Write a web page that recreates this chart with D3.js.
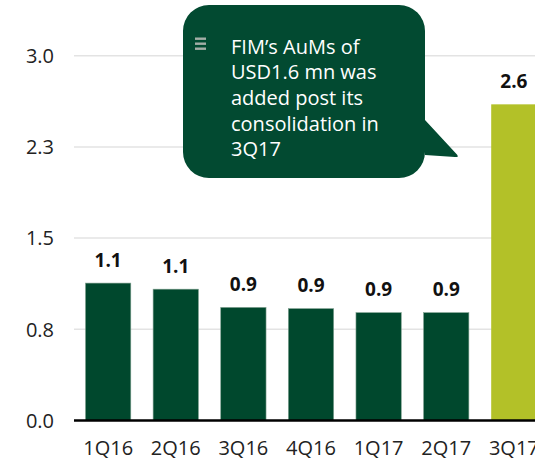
<!DOCTYPE html>
<html lang="en">
<head>
    <style>
        body { margin: 0; background: #fff; }
        svg { display: block; font-family: "Open Sans", "Noto Sans", sans-serif; }
        .grid line { stroke: #e3e3e3; stroke-width: 1.5; }
        .tick-label { font-size: 20px; fill: #222; }
        .value-label { font-size: 19px; font-weight: bold; fill: #111; }
        .note { font-size: 20px; fill: #fff; }
    </style>
    <script src="https://d3js.org/d3.v7.min.js"></script>
</head>
<body>
    <svg id="chart"></svg>

    <script>
        // Data
        var quarters = ["1Q16", "2Q16", "3Q16", "4Q16", "1Q17", "2Q17", "3Q17"];
        var aum = [1.13, 1.08, 0.93, 0.92, 0.887, 0.887, 2.60];
        var valueLabels = ["1.1", "1.1", "0.9", "0.9", "0.9", "0.9", "2.6"];
        var yTicks = [0, 0.75, 1.5, 2.25, 3.0];
        var yTickLabels = ["0.0", "0.8", "1.5", "2.3", "3.0"];
        var noteLines = ["FIM\u2019s AuMs of", "USD1.6 mn was", "added post its", "consolidation in", "3Q17"];

        var width = 535, height = 459;
        var darkGreen = "#00482d", lime = "#b3c128";

        var svg = d3.select("#chart")
            .attr("width", width)
            .attr("height", height);

        var y = d3.scaleLinear().domain([0, 3]).range([420.5, 55.7]);
        var x = d3.scaleBand()
            .domain(quarters)
            .range([74, 548])
            .paddingInner(0.33)
            .paddingOuter(0.17);

        // gridlines
        svg.append("g").attr("class", "grid")
            .selectAll("line")
            .data(yTicks.slice(1))
            .join("line")
            .attr("x1", 74).attr("x2", width)
            .attr("y1", d => y(d)).attr("y2", d => y(d));

        // y tick labels
        svg.append("g")
            .selectAll("text")
            .data(yTicks)
            .join("text")
            .attr("class", "tick-label")
            .attr("x", 54)
            .attr("y", d => y(d))
            .attr("dy", "0.36em")
            .attr("text-anchor", "end")
            .text((d, i) => yTickLabels[i]);

        // bars
        svg.append("g")
            .selectAll("rect")
            .data(aum)
            .join("rect")
            .attr("x", (d, i) => x(quarters[i]))
            .attr("width", x.bandwidth())
            .attr("y", d => y(d))
            .attr("height", d => y(0) - y(d))
            .attr("fill", (d, i) => i === quarters.length - 1 ? lime : darkGreen)
            .attr("stroke", (d, i) => i === quarters.length - 1 ? "none" : "#7fa08f")
            .attr("stroke-width", 0.6);

        // value labels
        svg.append("g")
            .selectAll("text")
            .data(aum)
            .join("text")
            .attr("class", "value-label")
            .attr("x", (d, i) => x(quarters[i]) + x.bandwidth() / 2)
            .attr("y", d => y(d) - 16.5)
            .attr("text-anchor", "middle")
            .text((d, i) => valueLabels[i]);

        // baseline
        svg.append("line")
            .attr("x1", 74).attr("x2", width)
            .attr("y1", y(0)).attr("y2", y(0))
            .attr("stroke", "#000")
            .attr("stroke-width", 2.7);

        // x axis labels
        svg.append("g")
            .selectAll("text")
            .data(quarters)
            .join("text")
            .attr("class", "tick-label")
            .attr("x", d => x(d) + x.bandwidth() / 2)
            .attr("y", 454.5)
            .attr("text-anchor", "middle")
            .text(d => d);

        // callout bubble
        var bx0 = 183, bx1 = 425, by0 = 5, by1 = 178, r = 26;
        var bubble = d3.path();
        bubble.moveTo(bx0 + r, by0);
        bubble.lineTo(bx1 - r, by0);
        bubble.arcTo(bx1, by0, bx1, by0 + r, r);
        bubble.lineTo(bx1, 120);
        bubble.lineTo(456, 153.5);
        bubble.quadraticCurveTo(460, 157.5, 455, 157);
        bubble.lineTo(bx1, 155);
        bubble.lineTo(bx1, by1 - r);
        bubble.arcTo(bx1, by1, bx1 - r, by1, r);
        bubble.lineTo(bx0 + r, by1);
        bubble.arcTo(bx0, by1, bx0, by1 - r, r);
        bubble.lineTo(bx0, by0 + r);
        bubble.arcTo(bx0, by0, bx0 + r, by0, r);
        bubble.closePath();

        var note = svg.append("g");
        note.append("path")
            .attr("d", bubble.toString())
            .attr("fill", "#024a31");

        // menu icon
        note.selectAll("rect")
            .data([0, 1, 2])
            .join("rect")
            .attr("x", 195)
            .attr("y", d => 37.5 + d * 5)
            .attr("width", 11)
            .attr("height", 2.4)
            .attr("fill", "#a4aea7");

        note.selectAll("text")
            .data(noteLines)
            .join("text")
            .attr("class", "note")
            .attr("x", 231)
            .attr("y", (d, i) => 53.5 + i * 25.7)
            .text(d => d);
    </script>
</body>
</html>
